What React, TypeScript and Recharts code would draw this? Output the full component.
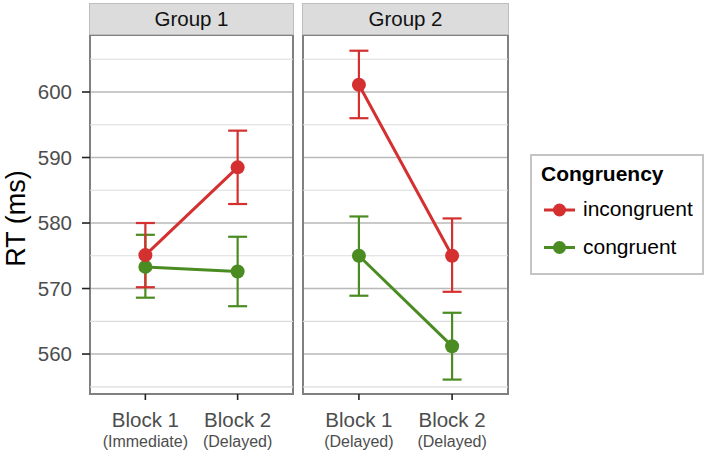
import React from 'react';
import {
  LineChart,
  Line,
  XAxis,
  YAxis,
  CartesianGrid,
  ReferenceLine,
  ReferenceArea,
  ErrorBar,
  Legend,
  Label,
} from 'recharts';

// blocks on the x axis
const blocks = [1, 2];
const blockLabels = ['Block 1', 'Block 2'];
const group1Sub = ['(Immediate)', '(Delayed)'];
const group2Sub = ['(Delayed)', '(Delayed)'];

// mean RT and error bar limits, per group
const g1Incongruent = [575.1, 588.5];
const g1IncongruentLow = [570.2, 582.9];
const g1IncongruentHigh = [580.0, 594.1];
const g1Congruent = [573.3, 572.6];
const g1CongruentLow = [568.6, 567.3];
const g1CongruentHigh = [578.2, 577.9];

const g2Incongruent = [601.1, 575.0];
const g2IncongruentLow = [596.0, 569.5];
const g2IncongruentHigh = [606.3, 580.7];
const g2Congruent = [575.0, 561.2];
const g2CongruentLow = [568.9, 556.1];
const g2CongruentHigh = [581.0, 566.3];

const majorTicks = [560, 570, 580, 590, 600];
const minorTicks = [555, 565, 575, 585, 595, 605];
const yDomain = [553.9, 608.7];
const xDomain = [0.4, 2.6];

const seriesNames = ['incongruent', 'congruent'];
const RED = '#d3302f';
const GREEN = '#4b8c22';
const seriesColors = [RED, GREEN];

const FONT = '"Liberation Sans", Arial, Helvetica, sans-serif';

function buildRows(
  inc: number[], incLo: number[], incHi: number[],
  con: number[], conLo: number[], conHi: number[],
) {
  return blocks.map((b, i) => ({
    block: b,
    incongruent: inc[i],
    incErr: [inc[i] - incLo[i], incHi[i] - inc[i]],
    congruent: con[i],
    conErr: [con[i] - conLo[i], conHi[i] - con[i]],
  }));
}

const group1Rows = buildRows(g1Incongruent, g1IncongruentLow, g1IncongruentHigh, g1Congruent, g1CongruentLow, g1CongruentHigh);
const group2Rows = buildRows(g2Incongruent, g2IncongruentLow, g2IncongruentHigh, g2Congruent, g2CongruentLow, g2CongruentHigh);

function BlockTick(props: any) {
  const { x, y, payload, subs } = props;
  const idx = Number(payload.value) - 1;
  return (
    <g transform={`translate(${x},${y})`}>
      <text x={0} y={25} textAnchor="middle" fill="#4d4d4d" fontSize={20.5} fontFamily={FONT}>
        {blockLabels[idx]}
      </text>
      <text x={0} y={45} textAnchor="middle" fill="#4d4d4d" fontSize={16} fontFamily={FONT}>
        {subs[idx]}
      </text>
    </g>
  );
}

function CongruencyLegend() {
  return (
    <div
      style={{
        width: 170,
        height: 117,
        border: '2px solid #c4c4c4',
        background: '#fff',
        fontFamily: FONT,
        position: 'relative',
      }}
    >
      <svg width={170} height={117}>
        <text x={9} y={25} fontSize={21} fontWeight="bold" fill="#000" fontFamily={FONT}>
          Congruency
        </text>
        {seriesNames.map((name, i) => {
          const cy = 54 + i * 37.5;
          return (
            <g key={name}>
              <line x1={12} x2={43} y1={cy} y2={cy} stroke={seriesColors[i]} strokeWidth={3} />
              <circle cx={27.5} cy={cy} r={6.5} fill={seriesColors[i]} />
              <text x={51} y={cy + 6} fontSize={21} fill="#000" fontFamily={FONT}>
                {name}
              </text>
            </g>
          );
        })}
      </svg>
    </div>
  );
}

function Panel({ rows, subs, showY, legend }: { rows: any[]; subs: string[]; showY: boolean; legend?: boolean }) {
  return (
    <LineChart
      width={showY ? 300 : 495}
      height={456}
      data={rows}
      margin={showY ? { top: 35, right: 7, bottom: 2, left: 0 } : { top: 35, right: 200, bottom: 2, left: 90 }}
    >
      <CartesianGrid vertical={false} stroke="#b9b9b9" strokeWidth={1.5} />
      {minorTicks.map((t) => (
        <ReferenceLine key={t} y={t} stroke="#dcdcdc" strokeWidth={1.2} />
      ))}
      <XAxis
        type="number"
        dataKey="block"
        domain={xDomain}
        ticks={blocks}
        interval={0}
        axisLine={false}
        tickLine={{ stroke: '#222', strokeWidth: 1.6 }}
        tickSize={6}
        height={60}
        tick={(p: any) => <BlockTick {...p} subs={subs} />}
      />
      <YAxis
        type="number"
        domain={yDomain}
        allowDataOverflow
        ticks={majorTicks}
        hide={!showY}
        width={90}
        axisLine={false}
        tickLine={{ stroke: '#222', strokeWidth: 1.6 }}
        tickSize={8}
        tickMargin={10}
        tick={{ fill: '#4d4d4d', fontSize: 20.5, fontFamily: FONT }}
      >
        {showY && (
          <Label
            content={(lp: any) => {
              const vb = lp.viewBox || { y: 35, height: 359 };
              const cy = vb.y + vb.height / 2 + 4;
              return (
                <text
                  x={25}
                  y={cy}
                  transform={`rotate(-90 25 ${cy})`}
                  textAnchor="middle"
                  fontSize={27}
                  fill="#000"
                  fontFamily={FONT}
                >
                  RT (ms)
                </text>
              );
            }}
          />
        )}
      </YAxis>
      <Line
        dataKey="congruent"
        name="congruent"
        stroke={GREEN}
        strokeWidth={3}
        dot={{ r: 7, fill: GREEN, stroke: GREEN, strokeWidth: 0 }}
        isAnimationActive={false}
      >
        <ErrorBar dataKey="conErr" direction="y" width={9.5} stroke={GREEN} strokeWidth={2.2} />
      </Line>
      <Line
        dataKey="incongruent"
        name="incongruent"
        stroke={RED}
        strokeWidth={3}
        dot={{ r: 7, fill: RED, stroke: RED, strokeWidth: 0 }}
        isAnimationActive={false}
      >
        <ErrorBar dataKey="incErr" direction="y" width={9.5} stroke={RED} strokeWidth={2.2} />
      </Line>
      <ReferenceArea
        x1={xDomain[0]}
        x2={xDomain[1]}
        y1={yDomain[0]}
        y2={yDomain[1]}
        fill="none"
        stroke="#808080"
        strokeWidth={2}
        ifOverflow="visible"
      />
      {legend && (
        <Legend
          layout="vertical"
          align="center"
          verticalAlign="middle"
          wrapperStyle={{ left: 317, top: 154, width: 174, height: 121 }}
          content={() => <CongruencyLegend />}
        />
      )}
    </LineChart>
  );
}

const stripStyle: React.CSSProperties = {
  position: 'absolute',
  top: 3,
  height: 30,
  background: '#dcdcdc',
  border: '1px solid #bdbdbd',
  display: 'flex',
  alignItems: 'center',
  justifyContent: 'center',
  fontFamily: FONT,
  fontSize: 20.5,
  color: '#111',
};

export default function App() {
  return (
    <div style={{ position: 'absolute', left: 0, top: 0, width: 708, height: 456, background: '#fff' }}>
      <div style={{ position: 'absolute', left: 0, top: 0 }}>
        <Panel rows={group1Rows} subs={group1Sub} showY />
      </div>
      <div style={{ position: 'absolute', left: 213, top: 0 }}>
        <Panel rows={group2Rows} subs={group2Sub} showY={false} legend />
      </div>
      <div style={{ ...stripStyle, left: 89, width: 203 }}>Group 1</div>
      <div style={{ ...stripStyle, left: 302, width: 205 }}>Group 2</div>
    </div>
  );
}
